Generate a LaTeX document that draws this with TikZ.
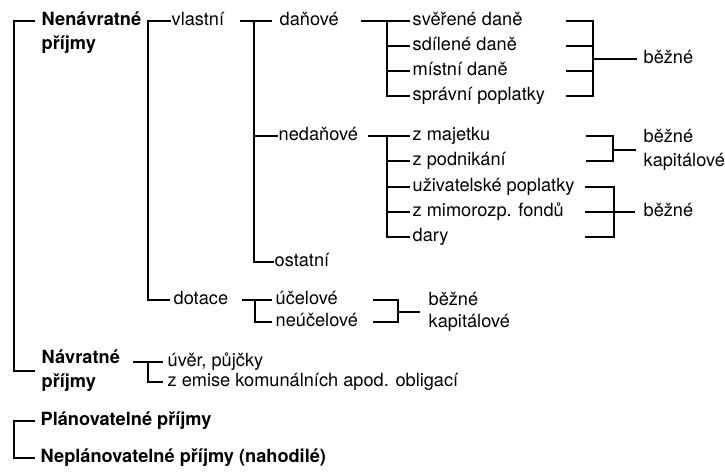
\documentclass[tikz,border=0pt]{standalone}
\usepackage{fontspec}
\setmainfont{TeX Gyre Heros}
\usepackage{tikz}
\usepackage{xcolor}

\begin{document}
\begin{tikzpicture}[x=1pt,y=-1pt,line width=1.3pt,
  item/.style={anchor=west,inner sep=0pt,font=\fontsize{18.2}{24}\selectfont,text height=13pt,text depth=3.6pt},
  head/.style={item,font=\fontsize{18.2}{24}\selectfont\bfseries},
  headtwo/.style={anchor=west,inner sep=0pt,align=left,font=\fontsize{18.2}{24}\selectfont\bfseries}]
\useasboundingbox (0,0) rectangle (725,473);
\node[head] (nen) at (41,21) {Nenávratné};
\node[head] (nen2) at (41,45) {příjmy};
\node[headtwo] (navr) at (41,371) {Návratné\\příjmy};
\node[head] (plan) at (40,421) {Plánovatelné příjmy};
\node[head] (neplan) at (40,458) {Neplánovatelné příjmy (nahodilé)};
\node[item] (vlastni) at (171,21) {vlastní};
\node[item] (dotace) at (173,300) {dotace};
\node[item] (uver) at (167,362) {úvěr, půjčky};
\node[item] (emise) at (167,382) {z emise komunálních apod. obligací};
\node[item] (danove) at (279,21) {daňové};
\node[item] (nedanove) at (278,136) {nedaňové};
\node[item] (ostatni) at (274,262) {ostatní};
\node[item] (ucel) at (275,300) {účelové};
\node[item] (neucel) at (275,322) {neúčelové};
\node[item] (sverene) at (412,21) {svěřené daně};
\node[item] (sdilene) at (412,46) {sdílené daně};
\node[item] (mistni) at (412,71) {místní daně};
\node[item] (spravni) at (412,96) {správní poplatky};
\node[item] (majetek) at (412,136) {z majetku};
\node[item] (podnik) at (412,161) {z podnikání};
\node[item] (uzivatel) at (412,187) {uživatelské poplatky};
\node[item] (fondy) at (412,212) {z mimorozp. fondů};
\node[item] (dary) at (412,237) {dary};
\node[item] (bezne1) at (643,59) {běžné};
\node[item] (bezne2) at (643,138) {běžné};
\node[item] (kapital2) at (643,162) {kapitálové};
\node[item] (bezne3) at (643,212) {běžné};
\node[item] (bezne4) at (428,301) {běžné};
\node[item] (kapital4) at (428,323) {kapitálové};
\coordinate (k0) at (14,21);
\coordinate (k1) at (148,21);
\coordinate (k2) at (254,21);
\coordinate (k3) at (387,21);
\coordinate (k4) at (387,136);
\coordinate (k5) at (148,362);
\coordinate (k6) at (255,300);
\coordinate (r1) at (593,59);
\coordinate (r1l) at (566,59);
\coordinate (r2) at (613,150);
\coordinate (r2l) at (586,150);
\coordinate (r3) at (614,212);
\coordinate (r3l) at (585,212);
\coordinate (r4) at (398,312);
\coordinate (r4l) at (373,312);
\draw ([xshift=-6pt]nen.west) -- (k0 |- nen) -- (k0 |- navr) -- ([xshift=-6pt]navr.west);
\draw ([xshift=-5pt]plan.west) -- (k0 |- plan) -- (k0 |- neplan) -- ([xshift=-5pt]neplan.west);
\draw (vlastni.west) -- (k1) -- (k1 |- dotace) -- ([xshift=-3pt]dotace.west);
\draw (k5) ++(-15,0) -- ([xshift=-4pt]uver.west);
\draw (k5) |- ([xshift=-4pt]emise.west);
\draw (k2) ++(-14,0) -- ([xshift=-7pt]danove.west);
\draw (k2) |- (nedanove.west);
\draw (k2) |- (ostatni.west);
\draw (k6) ++(-13,0) -- ([xshift=-3pt]ucel.west);
\draw (k6) |- ([xshift=-3pt]neucel.west);
\draw (k3) ++(-26,0) -- ([xshift=-2pt]sverene.west);
\draw (k3 |- sdilene) -- ([xshift=-2pt]sdilene.west);
\draw (k3 |- mistni) -- ([xshift=-2pt]mistni.west);
\draw (k3) |- ([xshift=-2pt]spravni.west);
\draw (k4) ++(-19,0) -- ([xshift=-2pt]majetek.west);
\draw (k4 |- podnik) -- ([xshift=-2pt]podnik.west);
\draw (k4 |- uzivatel) -- ([xshift=-2pt]uzivatel.west);
\draw (k4 |- fondy) -- ([xshift=-2pt]fondy.west);
\draw (k4) |- ([xshift=-2pt]dary.west);
\draw (r1l |- sverene) -- (r1 |- sverene) -- (r1 |- spravni) -- (r1l |- spravni);
\draw (r1l |- sdilene) -- (r1 |- sdilene);
\draw (r1l |- mistni) -- (r1 |- mistni);
\draw (r1) -- ([xshift=-6pt]bezne1.west);
\draw (r2l |- majetek) -- (r2 |- majetek) -- (r2 |- podnik) -- (r2l |- podnik);
\draw (r2) -- ([xshift=-7pt]bezne2.west |- r2);
\draw (r3l |- uzivatel) -- (r3 |- uzivatel) -- (r3 |- dary) -- (r3l |- dary);
\draw (r3l |- fondy) -- (r3);
\draw (r3) -- ([xshift=-8pt]bezne3.west);
\draw (r4l |- ucel) -- (r4 |- ucel) -- (r4 |- neucel) -- (r4l |- neucel);
\draw (r4) -- ([xshift=-8pt]bezne4.west |- r4);
\end{tikzpicture}
\end{document}
